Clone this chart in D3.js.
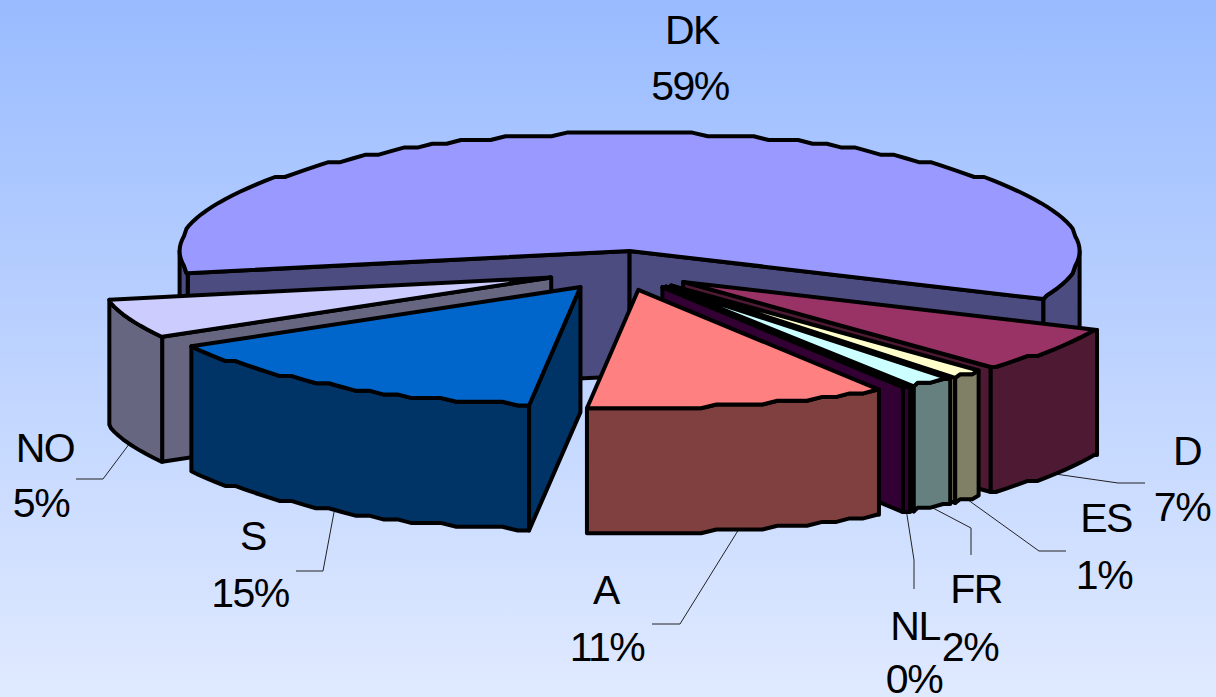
<!DOCTYPE html>
<html>
<head>
<meta charset="utf-8">
<title>Share by country</title>
<style>
  html, body { margin: 0; padding: 0; background: #fff; }
  svg { display: block; }
  text { font-family: "Liberation Sans", Arial, sans-serif; font-size: 41px; fill: #000; text-anchor: middle; letter-spacing: -1.5px; }
</style>
</head>
<body>
<svg width="1216" height="697"></svg>
<script src="https://d3js.org/d3.v7.min.js"></script>
<script>

// slices, clockwise from the left edge of DK
var categories = ["DK", "D", "ES", "FR", "NL", "A", "S", "NO"];
var values = [59.45, 6.6, 1.1, 1.6, 0.3, 10.8, 14.8, 5.35];
var topColors = ["#9999FF", "#993366", "#FFFFCC", "#CCFFFF", "#660066", "#FF8080", "#0066CC", "#CCCCFF"];
var sideColors = ["#4C4C80", "#4D1933", "#808066", "#668080", "#330033", "#804040", "#003366", "#666680"];

// back slices get painted first
var drawOrder = ["DK", "NO", "S", "D", "ES", "FR", "NL", "A"];

// label centres: name baseline, then percent baseline
var labelX = [[692, 690], [1187, 1182], [1106, 1104], [976, 970], [915, 914], [606, 607], [253, 250], [45, 41]];
var labelY = [[44, 100], [465, 521], [532, 589], [603, 661], [640, 693], [604, 661], [550, 607], [462, 517]];

// leader lines run from the slice to these two points; DK has none
var leaderX = [null, [1118, 1145], [1039, 1066], [971, 971], [914, 914], [680, 652], [323, 296], [103, 76]];
var leaderY = [null, [483, 483], [551, 551], [528, 555], [560, 589], [624, 624], [571, 571], [479, 479]];

var svg = d3.select("svg"),
    width = +svg.attr("width"),
    height = +svg.attr("height");

var rad = Math.PI / 180;
var rotation = -100.9 * rad;
var explode = 0.167;
var depth = 125;
var stepY = 3.7;

// squashed circle: x and y run over the unit circle
var x = d3.scaleLinear().domain([-1, 1]).range([621.6 - 450, 621.6 + 450]);
var y = d3.scaleLinear().domain([-1, 1]).range([270.6 - 118, 270.6 + 118]);

var defs = svg.append("defs");
var bg = defs.append("linearGradient")
    .attr("id", "bg")
    .attr("x1", 0).attr("y1", 0).attr("x2", 0).attr("y2", 1);
bg.append("stop").attr("offset", "0%").attr("stop-color", "#99BBFF");
bg.append("stop").attr("offset", "100%").attr("stop-color", "#E0EAFF");

svg.append("rect")
    .attr("width", width)
    .attr("height", height)
    .attr("fill", "url(#bg)");

var slices = d3.pie()
    .sort(null)
    .startAngle(rotation)
    .endAngle(rotation + 2 * Math.PI)(values);

slices.forEach(function(s, i) {
  s.name = categories[i];
  s.mid = (s.startAngle + s.endAngle) / 2;
  s.apex = [x(explode * Math.sin(s.mid)), y(-explode * Math.cos(s.mid))];
});

// point on the rim of a slice, y stepped so the rim comes out slightly rough
function rim(s, a) {
  var px = x(Math.sin(a) + explode * Math.sin(s.mid));
  var py = y(-Math.cos(a) - explode * Math.cos(s.mid));
  return [px, s.apex[1] + Math.round((py - s.apex[1]) / stepY) * stepY];
}

// angles along the arc, every 2 degrees on a shared grid plus the two ends
function arcAngles(s) {
  var list = [s.startAngle];
  var a = Math.ceil(s.startAngle / rad / 2) * 2 * rad;
  for (; a < s.endAngle; a += 2 * rad) if (a > s.startAngle) list.push(a);
  list.push(s.endAngle);
  return list;
}

function down(p) { return [p[0], p[1] + depth]; }

var line = d3.line().curve(d3.curveLinearClosed);

function face(g, pts, fill) {
  g.append("path")
      .attr("d", line(pts))
      .attr("fill", fill)
      .attr("stroke", "#000")
      .attr("stroke-width", 4)
      .attr("stroke-linejoin", "round");
}

// leader lines sit under the slices
slices.forEach(function(s, i) {
  if (!leaderX[i]) return;
  var from = down(rim(s, s.mid));
  svg.append("path")
      .attr("d", d3.line()([from, [leaderX[i][0], leaderY[i][0]], [leaderX[i][1], leaderY[i][1]]]))
      .attr("fill", "none")
      .attr("stroke", "#222")
      .attr("stroke-width", 1);
});

drawOrder.forEach(function(name) {
  var s = slices[categories.indexOf(name)];
  var i = categories.indexOf(name);
  var g = svg.append("g").attr("class", "slice");
  var angles = arcAngles(s);

  // radial walls, only those turned towards the viewer
  if (Math.sin(s.startAngle) < 0) {
    var p0 = rim(s, s.startAngle);
    face(g, [s.apex, p0, down(p0), down(s.apex)], sideColors[i]);
  }
  if (Math.sin(s.endAngle) > 0) {
    var p1 = rim(s, s.endAngle);
    face(g, [s.apex, p1, down(p1), down(s.apex)], sideColors[i]);
  }

  // outer wall: the runs of the arc on the near half of the ellipse
  var run = [];
  function flush() {
    if (run.length > 1) {
      var pts = run.map(function(a) { return rim(s, a); });
      face(g, pts.concat(pts.map(down).reverse()), sideColors[i]);
    }
    run = [];
  }
  angles.forEach(function(a) {
    if (Math.cos(a) <= 0.001) run.push(a); else flush();
  });
  flush();

  // top
  face(g, [s.apex].concat(angles.map(function(a) { return rim(s, a); })), topColors[i]);
});

// labels
slices.forEach(function(s, i) {
  svg.append("text").attr("x", labelX[i][0]).attr("y", labelY[i][0]).text(s.name);
  svg.append("text").attr("x", labelX[i][1]).attr("y", labelY[i][1]).text(d3.format(".0f")(s.data) + "%");
});

</script>
</body>
</html>
